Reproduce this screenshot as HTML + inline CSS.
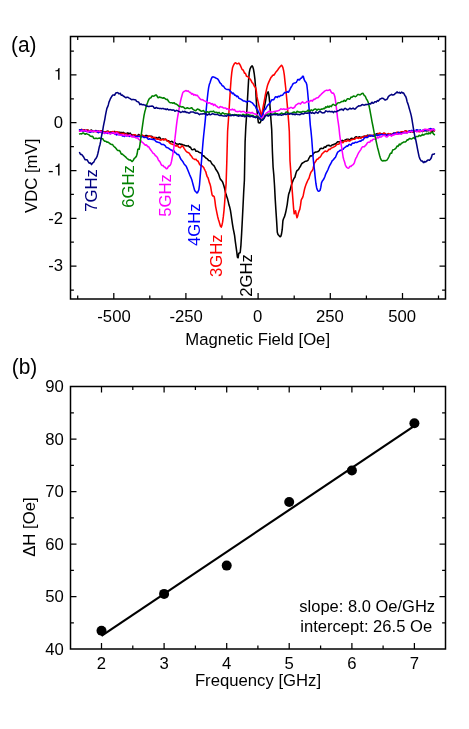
<!DOCTYPE html>
<html><head><meta charset="utf-8"><title>Figure</title>
<style>
html,body{margin:0;padding:0;background:#ffffff;}
body{width:469px;height:729px;position:relative;overflow:hidden;font-family:"Liberation Sans",sans-serif;}
</style></head><body>
<svg width="469" height="729" viewBox="0 0 469 729" style="position:absolute;left:0;top:0;will-change:transform">
<rect x="0" y="0" width="469" height="729" fill="#ffffff"/>
<g font-family="'Liberation Sans', sans-serif" font-size="16.7px" fill="#000">
<g fill="none" stroke-width="1.55" stroke-linejoin="round" stroke-linecap="round">
<path d="M79.6,129.8 L80.3,129.9 L81.0,129.8 L81.7,129.7 L82.4,130.0 L83.1,130.0 L83.8,129.7 L84.5,130.2 L85.2,130.5 L85.9,130.1 L86.6,130.2 L87.3,130.3 L88.0,130.0 L88.7,130.7 L89.4,131.7 L90.1,130.8 L90.8,130.3 L91.5,130.0 L92.2,130.7 L92.9,131.3 L93.6,131.7 L94.3,131.5 L95.0,131.1 L95.7,130.5 L96.4,130.9 L97.1,131.6 L97.8,130.8 L98.5,130.8 L99.2,131.5 L99.9,131.5 L100.6,131.3 L101.3,130.7 L102.0,131.5 L102.7,132.1 L103.4,131.7 L104.1,131.9 L104.8,132.4 L105.5,131.9 L106.2,131.6 L106.9,131.4 L107.6,131.1 L108.3,131.5 L109.0,132.8 L109.8,132.5 L110.5,132.0 L111.2,132.0 L111.9,132.2 L112.6,132.6 L113.3,133.0 L114.0,132.5 L114.7,131.4 L115.4,132.7 L116.1,132.9 L116.8,132.0 L117.5,132.5 L118.2,132.8 L118.9,132.2 L119.6,132.3 L120.3,132.6 L121.0,132.4 L121.7,132.6 L122.4,133.0 L123.1,132.4 L123.8,132.6 L124.5,133.7 L125.2,133.5 L125.9,133.4 L126.6,133.5 L127.3,133.1 L128.0,132.9 L128.7,134.1 L129.4,133.9 L130.1,133.1 L130.8,134.0 L131.5,134.7 L132.2,135.2 L132.9,135.0 L133.6,134.9 L134.3,134.8 L135.0,135.3 L135.7,135.8 L136.4,135.9 L137.1,135.7 L137.8,135.4 L138.5,134.5 L139.2,134.8 L139.9,136.2 L140.6,135.9 L141.3,135.7 L142.0,135.9 L142.7,135.9 L143.4,136.0 L144.1,136.6 L144.8,136.2 L145.5,135.5 L146.2,135.4 L146.9,135.6 L147.6,136.2 L148.3,136.2 L149.0,136.2 L149.7,136.3 L150.4,136.3 L151.1,136.3 L151.8,136.2 L152.5,137.2 L153.2,138.3 L153.9,138.2 L154.6,138.0 L155.3,137.8 L156.0,137.5 L156.7,137.7 L157.4,138.4 L158.1,137.8 L158.8,137.3 L159.5,137.2 L160.2,138.1 L160.9,139.1 L161.6,139.4 L162.3,139.2 L163.0,138.8 L163.7,139.3 L164.4,139.4 L165.1,139.1 L165.8,139.5 L166.5,140.1 L167.2,140.9 L167.9,140.8 L168.7,140.8 L169.4,141.7 L170.1,141.9 L170.8,141.8 L171.5,141.3 L172.2,141.5 L172.9,142.3 L173.6,142.5 L174.3,142.6 L175.0,142.6 L175.7,143.3 L176.4,143.9 L177.1,144.1 L177.8,144.3 L178.5,144.5 L179.2,143.8 L179.9,143.8 L180.6,144.5 L181.3,144.3 L182.0,144.3 L182.7,144.9 L183.4,145.0 L184.1,145.1 L184.8,145.6 L185.5,145.7 L186.2,145.8 L186.9,146.0 L187.6,145.9 L188.3,145.6 L189.0,146.6 L189.7,147.2 L190.4,147.1 L191.1,148.4 L191.8,149.6 L192.5,149.7 L193.2,149.5 L193.9,149.2 L194.6,149.1 L195.3,149.9 L196.0,151.3 L196.7,151.3 L197.4,151.3 L198.1,151.5 L198.8,152.1 L199.5,152.6 L200.2,152.7 L200.9,152.8 L201.6,153.4 L202.3,155.3 L203.0,155.9 L203.7,155.7 L204.4,156.6 L205.1,157.3 L205.8,158.0 L206.5,158.4 L207.2,158.8 L207.9,159.7 L208.6,160.3 L209.3,160.8 L210.0,160.7 L210.7,161.5 L211.4,162.8 L212.1,164.0 L212.8,164.8 L213.5,165.2 L214.2,166.1 L214.9,167.3 L215.6,169.0 L216.3,170.0 L217.0,171.0 L217.7,172.1 L218.4,173.6 L219.1,175.5 L219.8,177.7 L220.5,179.4 L221.2,180.1 L221.9,180.9 L222.6,182.0 L223.3,184.0 L224.0,186.3 L224.7,188.9 L225.4,192.2 L226.1,194.6 L226.8,196.7 L227.6,199.1 L228.3,201.9 L229.0,205.1 L229.7,207.1 L230.4,210.2 L231.1,214.7 L231.8,219.7 L232.5,224.4 L233.2,228.6 L233.9,232.0 L234.6,235.6 L235.3,241.3 L236.0,246.3 L236.7,251.4 L237.4,257.2 L238.1,257.8 L238.8,253.2 L239.5,253.0 L240.2,252.5 L240.9,245.6 L241.6,233.9 L242.3,220.5 L243.0,206.5 L243.7,192.0 L244.4,180.2 L245.1,141.9 L245.8,126.9 L246.5,116.7 L247.2,104.4 L247.9,92.1 L248.6,79.8 L249.3,72.3 L250.0,69.1 L250.7,67.5 L251.4,66.5 L252.1,65.8 L252.8,66.9 L253.5,69.3 L254.2,73.5 L254.9,79.1 L255.6,87.7 L256.3,100.5 L257.0,110.7 L257.7,117.7 L258.4,122.7 L259.1,122.8 L259.8,122.9 L260.5,122.0 L261.2,120.2 L261.9,117.1 L262.6,114.8 L263.3,112.0 L264.0,108.5 L264.7,105.4 L265.4,101.9 L266.1,97.4 L266.8,94.5 L267.5,92.3 L268.2,91.9 L268.9,94.9 L269.6,101.3 L270.3,110.3 L271.0,120.4 L271.7,129.6 L272.4,151.6 L273.1,167.2 L273.8,174.7 L274.5,185.3 L275.2,198.9 L275.9,210.1 L276.6,220.6 L277.3,232.3 L278.0,234.5 L278.7,235.3 L279.4,236.1 L280.1,236.8 L280.8,236.4 L281.5,234.0 L282.2,229.7 L282.9,220.8 L283.6,218.5 L284.3,217.2 L285.0,215.1 L285.7,212.3 L286.4,208.8 L287.2,204.6 L287.9,199.1 L288.6,194.6 L289.3,192.6 L290.0,190.2 L290.7,187.7 L291.4,185.0 L292.1,182.9 L292.8,181.1 L293.5,179.3 L294.2,178.1 L294.9,177.2 L295.6,174.5 L296.3,172.1 L297.0,170.6 L297.7,170.1 L298.4,169.6 L299.1,168.3 L299.8,167.2 L300.5,166.2 L301.2,164.6 L301.9,163.5 L302.6,163.0 L303.3,162.6 L304.0,162.2 L304.7,161.6 L305.4,161.3 L306.1,161.2 L306.8,161.1 L307.5,160.7 L308.2,160.0 L308.9,158.3 L309.6,157.2 L310.3,155.8 L311.0,155.9 L311.7,155.9 L312.4,155.3 L313.1,154.3 L313.8,153.2 L314.5,152.7 L315.2,152.2 L315.9,152.0 L316.6,151.9 L317.3,151.8 L318.0,151.6 L318.7,151.1 L319.4,150.2 L320.1,148.8 L320.8,148.5 L321.5,148.3 L322.2,148.4 L322.9,148.4 L323.6,148.2 L324.3,147.0 L325.0,146.9 L325.7,147.3 L326.4,146.2 L327.1,145.6 L327.8,145.4 L328.5,145.2 L329.2,145.3 L329.9,145.9 L330.6,145.9 L331.3,145.7 L332.0,144.9 L332.7,144.7 L333.4,144.8 L334.1,144.2 L334.8,143.9 L335.5,143.9 L336.2,143.2 L336.9,142.5 L337.6,141.8 L338.3,141.8 L339.0,141.9 L339.7,141.8 L340.4,141.9 L341.1,141.8 L341.8,140.5 L342.5,140.4 L343.2,141.4 L343.9,140.9 L344.6,140.4 L345.3,139.9 L346.1,139.6 L346.8,139.3 L347.5,139.2 L348.2,139.2 L348.9,139.4 L349.6,140.0 L350.3,139.6 L351.0,138.5 L351.7,138.3 L352.4,138.4 L353.1,139.1 L353.8,138.7 L354.5,138.0 L355.2,137.2 L355.9,136.8 L356.6,136.7 L357.3,137.7 L358.0,137.6 L358.7,137.0 L359.4,136.8 L360.1,137.1 L360.8,138.0 L361.5,137.3 L362.2,136.8 L362.9,137.0 L363.6,136.5 L364.3,136.1 L365.0,136.8 L365.7,136.9 L366.4,136.4 L367.1,135.5 L367.8,135.1 L368.5,135.5 L369.2,135.6 L369.9,135.7 L370.6,136.1 L371.3,135.8 L372.0,135.5 L372.7,135.6 L373.4,135.6 L374.1,135.7 L374.8,135.0 L375.5,134.5 L376.2,134.1 L376.9,133.7 L377.6,133.6 L378.3,133.9 L379.0,133.8 L379.7,133.7 L380.4,133.6 L381.1,133.7 L381.8,134.0 L382.5,133.7 L383.2,133.6 L383.9,133.6 L384.6,133.6 L385.3,134.0 L386.0,134.9 L386.7,134.5 L387.4,134.2 L388.1,134.7 L388.8,134.8 L389.5,134.6 L390.2,134.1 L390.9,134.2 L391.6,134.8 L392.3,134.3 L393.0,133.7 L393.7,133.1 L394.4,133.2 L395.1,133.3 L395.8,133.1 L396.5,133.5 L397.2,133.8 L397.9,132.7 L398.6,132.6 L399.3,133.1 L400.0,133.0 L400.7,132.8 L401.4,132.4 L402.1,132.5 L402.8,132.8 L403.5,133.1 L404.2,132.2 L405.0,131.1 L405.7,131.1 L406.4,131.3 L407.1,131.7 L407.8,132.0 L408.5,132.1 L409.2,131.9 L409.9,132.2 L410.6,132.1 L411.3,130.9 L412.0,131.4 L412.7,132.0 L413.4,132.0 L414.1,131.7 L414.8,131.2 L415.5,130.9 L416.2,130.8 L416.9,130.7 L417.6,130.6 L418.3,130.5 L419.0,130.5 L419.7,131.0 L420.4,131.3 L421.1,131.0 L421.8,131.3 L422.5,131.7 L423.2,130.5 L423.9,130.0 L424.6,130.0 L425.3,130.6 L426.0,130.9 L426.7,130.7 L427.4,130.8 L428.1,130.8 L428.8,130.4 L429.5,130.2 L430.2,130.2 L430.9,130.6 L431.6,131.1 L432.3,131.6 L433.0,130.8 L433.7,130.5 L434.4,130.9" stroke="#000000"/>
<path d="M79.6,131.1 L80.3,130.4 L81.0,129.8 L81.7,129.4 L82.4,129.7 L83.1,129.8 L83.8,129.8 L84.5,130.8 L85.2,131.3 L85.9,130.6 L86.6,130.2 L87.3,130.0 L88.0,130.4 L88.7,130.9 L89.4,131.5 L90.1,130.6 L90.8,130.7 L91.5,131.6 L92.2,131.2 L92.9,131.0 L93.6,131.4 L94.3,131.3 L95.0,131.3 L95.7,131.5 L96.4,131.7 L97.1,131.7 L97.8,131.5 L98.5,131.6 L99.2,131.8 L99.9,131.3 L100.6,130.9 L101.3,130.9 L102.0,131.3 L102.7,131.6 L103.4,131.8 L104.1,131.8 L104.8,131.8 L105.5,131.9 L106.2,132.2 L106.9,132.6 L107.6,131.7 L108.3,131.4 L109.0,131.9 L109.8,132.3 L110.5,132.5 L111.2,132.2 L111.9,131.9 L112.6,131.6 L113.3,131.6 L114.0,132.2 L114.7,133.1 L115.4,132.3 L116.1,131.8 L116.8,131.9 L117.5,132.0 L118.2,132.2 L118.9,132.9 L119.6,133.3 L120.3,133.5 L121.0,133.5 L121.7,133.6 L122.4,133.8 L123.1,133.4 L123.8,133.5 L124.5,134.3 L125.2,134.2 L125.9,134.2 L126.6,134.1 L127.3,134.5 L128.0,134.9 L128.7,135.4 L129.4,135.1 L130.1,134.6 L130.8,135.3 L131.5,135.6 L132.2,135.5 L132.9,135.1 L133.6,134.9 L134.3,134.7 L135.0,134.7 L135.7,134.9 L136.4,136.1 L137.1,136.5 L137.8,136.4 L138.5,135.6 L139.2,135.5 L139.9,136.0 L140.6,135.6 L141.3,135.2 L142.0,134.8 L142.7,135.4 L143.4,136.0 L144.1,136.0 L144.8,136.5 L145.5,137.1 L146.2,136.7 L146.9,136.9 L147.6,137.5 L148.3,136.4 L149.0,135.9 L149.7,136.2 L150.4,136.3 L151.1,136.7 L151.8,137.7 L152.5,137.6 L153.2,137.3 L153.9,137.3 L154.6,137.5 L155.3,138.0 L156.0,138.9 L156.7,139.0 L157.4,139.2 L158.1,139.0 L158.8,139.1 L159.5,139.7 L160.2,140.1 L160.9,140.2 L161.6,139.5 L162.3,139.4 L163.0,139.5 L163.7,140.0 L164.4,139.8 L165.1,139.0 L165.8,139.3 L166.5,140.0 L167.2,140.8 L167.9,141.1 L168.7,141.5 L169.4,142.6 L170.1,143.3 L170.8,143.7 L171.5,143.9 L172.2,144.1 L172.9,144.5 L173.6,144.6 L174.3,144.8 L175.0,145.3 L175.7,145.9 L176.4,146.1 L177.1,145.3 L177.8,145.9 L178.5,147.0 L179.2,147.4 L179.9,147.6 L180.6,147.6 L181.3,146.6 L182.0,145.9 L182.7,146.1 L183.4,147.1 L184.1,148.3 L184.8,149.4 L185.5,150.4 L186.2,151.3 L186.9,152.0 L187.6,152.4 L188.3,152.6 L189.0,153.0 L189.7,153.8 L190.4,155.1 L191.1,155.8 L191.8,156.7 L192.5,158.0 L193.2,158.6 L193.9,158.9 L194.6,159.5 L195.3,159.5 L196.0,159.2 L196.7,160.2 L197.4,160.9 L198.1,161.1 L198.8,162.7 L199.5,164.2 L200.2,165.1 L200.9,165.5 L201.6,165.7 L202.3,166.2 L203.0,166.8 L203.7,167.5 L204.4,169.1 L205.1,170.5 L205.8,171.8 L206.5,174.6 L207.2,176.8 L207.9,177.5 L208.6,179.8 L209.3,182.4 L210.0,184.1 L210.7,186.8 L211.4,191.1 L212.1,194.9 L212.8,196.0 L213.5,195.9 L214.2,196.7 L214.9,200.6 L215.6,206.3 L216.3,209.9 L217.0,213.3 L217.7,216.7 L218.4,219.4 L219.1,221.6 L219.8,224.0 L220.5,226.3 L221.2,227.1 L221.9,225.4 L222.6,222.2 L223.3,216.9 L224.0,210.5 L224.7,202.0 L225.4,192.1 L226.1,183.7 L226.8,161.9 L227.6,131.2 L228.3,121.7 L229.0,111.0 L229.7,99.7 L230.4,88.7 L231.1,79.2 L231.8,72.3 L232.5,67.8 L233.2,65.9 L233.9,64.5 L234.6,63.3 L235.3,62.8 L236.0,63.0 L236.7,63.7 L237.4,63.7 L238.1,63.5 L238.8,63.1 L239.5,63.9 L240.2,65.2 L240.9,66.7 L241.6,68.3 L242.3,69.7 L243.0,69.8 L243.7,71.1 L244.4,73.1 L245.1,73.1 L245.8,74.2 L246.5,76.3 L247.2,76.4 L247.9,76.5 L248.6,77.4 L249.3,78.2 L250.0,79.0 L250.7,79.8 L251.4,81.1 L252.1,82.7 L252.8,83.1 L253.5,84.3 L254.2,86.0 L254.9,86.8 L255.6,87.8 L256.3,90.8 L257.0,96.9 L257.7,100.1 L258.4,103.1 L259.1,106.3 L259.8,109.3 L260.5,112.2 L261.2,115.3 L261.9,114.7 L262.6,109.9 L263.3,106.1 L264.0,102.3 L264.7,98.6 L265.4,94.6 L266.1,91.4 L266.8,88.4 L267.5,85.5 L268.2,83.6 L268.9,81.9 L269.6,80.4 L270.3,78.9 L271.0,77.4 L271.7,76.7 L272.4,75.7 L273.1,75.1 L273.8,75.2 L274.5,74.3 L275.2,73.1 L275.9,72.1 L276.6,71.3 L277.3,70.4 L278.0,69.5 L278.7,68.3 L279.4,67.6 L280.1,66.8 L280.8,66.0 L281.5,65.2 L282.2,66.0 L282.9,67.6 L283.6,70.5 L284.3,74.9 L285.0,81.7 L285.7,88.0 L286.4,95.3 L287.2,104.2 L287.9,112.7 L288.6,121.1 L289.3,131.2 L290.0,160.8 L290.7,170.6 L291.4,180.0 L292.1,189.1 L292.8,198.1 L293.5,207.3 L294.2,213.8 L294.9,212.4 L295.6,210.8 L296.3,214.9 L297.0,217.7 L297.7,215.9 L298.4,212.9 L299.1,210.9 L299.8,209.4 L300.5,205.4 L301.2,200.1 L301.9,198.7 L302.6,197.5 L303.3,195.2 L304.0,191.7 L304.7,188.5 L305.4,186.2 L306.1,184.3 L306.8,182.6 L307.5,181.0 L308.2,179.5 L308.9,178.5 L309.6,176.1 L310.3,173.9 L311.0,172.1 L311.7,171.1 L312.4,170.6 L313.1,168.5 L313.8,165.4 L314.5,162.9 L315.2,162.0 L315.9,161.1 L316.6,159.7 L317.3,159.1 L318.0,159.1 L318.7,158.1 L319.4,157.4 L320.1,157.2 L320.8,156.1 L321.5,154.8 L322.2,153.6 L322.9,153.0 L323.6,152.6 L324.3,151.7 L325.0,151.2 L325.7,151.1 L326.4,151.6 L327.1,151.5 L327.8,150.7 L328.5,149.7 L329.2,149.2 L329.9,149.5 L330.6,148.8 L331.3,147.9 L332.0,147.8 L332.7,147.6 L333.4,147.2 L334.1,146.8 L334.8,146.4 L335.5,146.0 L336.2,145.1 L336.9,144.5 L337.6,144.2 L338.3,144.3 L339.0,144.1 L339.7,142.5 L340.4,141.8 L341.1,141.7 L341.8,142.4 L342.5,142.6 L343.2,142.6 L343.9,141.5 L344.6,140.9 L345.3,141.1 L346.1,141.4 L346.8,141.3 L347.5,140.0 L348.2,140.2 L348.9,141.0 L349.6,141.1 L350.3,140.7 L351.0,139.8 L351.7,139.8 L352.4,139.6 L353.1,139.2 L353.8,139.3 L354.5,139.2 L355.2,138.9 L355.9,138.1 L356.6,137.5 L357.3,137.7 L358.0,138.0 L358.7,138.4 L359.4,137.8 L360.1,137.6 L360.8,137.9 L361.5,137.7 L362.2,137.3 L362.9,136.6 L363.6,137.3 L364.3,137.8 L365.0,136.3 L365.7,135.8 L366.4,135.9 L367.1,136.0 L367.8,136.3 L368.5,136.6 L369.2,135.5 L369.9,135.0 L370.6,135.5 L371.3,135.5 L372.0,135.4 L372.7,135.4 L373.4,135.1 L374.1,134.7 L374.8,134.8 L375.5,135.1 L376.2,135.5 L376.9,135.0 L377.6,134.5 L378.3,133.7 L379.0,133.3 L379.7,133.1 L380.4,133.4 L381.1,133.7 L381.8,133.9 L382.5,134.1 L383.2,133.8 L383.9,133.1 L384.6,133.2 L385.3,133.8 L386.0,135.1 L386.7,135.2 L387.4,134.8 L388.1,133.6 L388.8,133.8 L389.5,134.4 L390.2,134.0 L390.9,134.2 L391.6,134.8 L392.3,134.3 L393.0,133.7 L393.7,133.3 L394.4,133.5 L395.1,133.6 L395.8,133.4 L396.5,132.7 L397.2,132.1 L397.9,133.0 L398.6,132.9 L399.3,132.4 L400.0,132.3 L400.7,132.1 L401.4,131.8 L402.1,131.7 L402.8,131.8 L403.5,132.5 L404.2,131.9 L405.0,131.1 L405.7,131.1 L406.4,131.2 L407.1,131.3 L407.8,131.7 L408.5,131.6 L409.2,131.0 L409.9,130.9 L410.6,130.9 L411.3,131.2 L412.0,131.7 L412.7,131.9 L413.4,131.2 L414.1,130.9 L414.8,130.9 L415.5,130.7 L416.2,130.6 L416.9,130.8 L417.6,131.1 L418.3,131.4 L419.0,131.7 L419.7,131.7 L420.4,131.5 L421.1,131.0 L421.8,130.7 L422.5,130.7 L423.2,131.3 L423.9,131.0 L424.6,130.2 L425.3,130.0 L426.0,129.9 L426.7,130.1 L427.4,129.7 L428.1,129.4 L428.8,129.5 L429.5,129.9 L430.2,130.6 L430.9,131.1 L431.6,130.7 L432.3,129.5 L433.0,129.4 L433.7,129.7 L434.4,130.7" stroke="#ff0000"/>
<path d="M79.6,129.9 L80.3,130.4 L81.0,130.2 L81.7,129.5 L82.4,130.8 L83.1,131.3 L83.8,131.1 L84.5,130.6 L85.2,130.5 L85.9,131.2 L86.6,131.4 L87.3,131.5 L88.0,131.3 L88.7,131.6 L89.4,132.1 L90.1,132.2 L90.8,132.0 L91.5,131.4 L92.2,131.6 L92.9,131.6 L93.6,131.2 L94.3,131.2 L95.0,131.3 L95.7,131.2 L96.4,131.1 L97.1,131.1 L97.8,132.4 L98.5,132.7 L99.2,132.1 L99.9,131.9 L100.6,132.0 L101.3,132.6 L102.0,132.9 L102.7,132.9 L103.4,132.1 L104.1,132.6 L104.8,133.4 L105.5,132.8 L106.2,132.7 L106.9,132.9 L107.6,133.4 L108.3,133.3 L109.0,132.7 L109.8,133.4 L110.5,133.7 L111.2,132.9 L111.9,132.8 L112.6,133.0 L113.3,132.7 L114.0,133.1 L114.7,134.0 L115.4,134.2 L116.1,134.6 L116.8,135.0 L117.5,134.1 L118.2,133.7 L118.9,134.7 L119.6,134.8 L120.3,134.5 L121.0,134.6 L121.7,135.2 L122.4,136.0 L123.1,135.7 L123.8,135.8 L124.5,136.4 L125.2,135.5 L125.9,135.1 L126.6,136.0 L127.3,135.7 L128.0,135.3 L128.7,136.3 L129.4,136.4 L130.1,135.9 L130.8,135.7 L131.5,135.9 L132.2,136.5 L132.9,136.6 L133.6,136.6 L134.3,136.5 L135.0,136.5 L135.7,136.4 L136.4,136.5 L137.1,136.5 L137.8,136.4 L138.5,136.2 L139.2,136.3 L139.9,136.6 L140.6,137.0 L141.3,136.9 L142.0,136.2 L142.7,136.6 L143.4,137.1 L144.1,137.5 L144.8,137.5 L145.5,137.2 L146.2,137.2 L146.9,137.7 L147.6,138.6 L148.3,139.2 L149.0,139.2 L149.7,138.7 L150.4,139.1 L151.1,139.4 L151.8,139.1 L152.5,139.4 L153.2,139.7 L153.9,139.4 L154.6,139.8 L155.3,140.8 L156.0,141.5 L156.7,141.9 L157.4,142.0 L158.1,142.3 L158.8,142.5 L159.5,142.5 L160.2,143.1 L160.9,143.8 L161.6,144.4 L162.3,144.5 L163.0,144.4 L163.7,144.6 L164.4,145.1 L165.1,145.6 L165.8,146.7 L166.5,147.5 L167.2,147.6 L167.9,147.9 L168.7,148.3 L169.4,148.8 L170.1,149.4 L170.8,150.0 L171.5,150.0 L172.2,150.5 L172.9,151.4 L173.6,150.9 L174.3,151.1 L175.0,152.6 L175.7,152.9 L176.4,153.3 L177.1,154.4 L177.8,154.6 L178.5,154.5 L179.2,155.6 L179.9,157.1 L180.6,158.8 L181.3,159.8 L182.0,160.6 L182.7,161.4 L183.4,162.7 L184.1,164.0 L184.8,164.7 L185.5,165.5 L186.2,166.3 L186.9,167.9 L187.6,169.5 L188.3,171.2 L189.0,173.0 L189.7,174.8 L190.4,176.4 L191.1,177.9 L191.8,179.8 L192.5,182.4 L193.2,185.0 L193.9,187.6 L194.6,190.2 L195.3,191.4 L196.0,191.8 L196.7,192.9 L197.4,192.8 L198.1,191.3 L198.8,190.0 L199.5,185.0 L200.2,176.1 L200.9,168.1 L201.6,159.8 L202.3,150.8 L203.0,142.4 L203.7,135.0 L204.4,128.6 L205.1,121.9 L205.8,114.1 L206.5,106.7 L207.2,99.5 L207.9,93.0 L208.6,87.9 L209.3,84.6 L210.0,82.7 L210.7,80.5 L211.4,78.6 L212.1,77.2 L212.8,76.8 L213.5,77.1 L214.2,77.2 L214.9,77.4 L215.6,78.0 L216.3,78.2 L217.0,78.6 L217.7,79.0 L218.4,79.9 L219.1,81.2 L219.8,82.6 L220.5,83.4 L221.2,83.9 L221.9,85.2 L222.6,86.0 L223.3,86.0 L224.0,86.9 L224.7,87.9 L225.4,88.7 L226.1,89.1 L226.8,89.4 L227.6,89.4 L228.3,89.5 L229.0,89.5 L229.7,90.6 L230.4,91.4 L231.1,91.8 L231.8,92.9 L232.5,93.6 L233.2,93.0 L233.9,93.9 L234.6,95.1 L235.3,95.1 L236.0,95.7 L236.7,96.6 L237.4,96.1 L238.1,96.6 L238.8,98.2 L239.5,98.6 L240.2,98.8 L240.9,99.2 L241.6,99.6 L242.3,100.1 L243.0,100.7 L243.7,101.0 L244.4,101.1 L245.1,101.3 L245.8,101.6 L246.5,102.0 L247.2,101.6 L247.9,101.2 L248.6,101.2 L249.3,101.3 L250.0,101.4 L250.7,101.8 L251.4,102.3 L252.1,102.7 L252.8,103.4 L253.5,104.2 L254.2,105.3 L254.9,105.6 L255.6,106.8 L256.3,108.8 L257.0,109.2 L257.7,109.9 L258.4,111.9 L259.1,113.2 L259.8,114.5 L260.5,116.8 L261.2,118.1 L261.9,117.1 L262.6,115.0 L263.3,112.7 L264.0,110.2 L264.7,109.8 L265.4,109.4 L266.1,107.9 L266.8,106.6 L267.5,105.6 L268.2,104.7 L268.9,104.1 L269.6,103.7 L270.3,102.4 L271.0,101.2 L271.7,99.8 L272.4,99.8 L273.1,99.9 L273.8,99.5 L274.5,98.4 L275.2,97.2 L275.9,96.7 L276.6,96.9 L277.3,97.5 L278.0,96.5 L278.7,96.2 L279.4,96.6 L280.1,96.0 L280.8,95.4 L281.5,95.5 L282.2,95.3 L282.9,94.8 L283.6,93.7 L284.3,92.9 L285.0,92.4 L285.7,92.7 L286.4,92.4 L287.2,91.5 L287.9,92.1 L288.6,92.1 L289.3,90.7 L290.0,89.3 L290.7,87.8 L291.4,86.8 L292.1,85.5 L292.8,84.1 L293.5,83.4 L294.2,83.1 L294.9,82.9 L295.6,82.7 L296.3,82.3 L297.0,81.0 L297.7,79.6 L298.4,79.5 L299.1,80.0 L299.8,79.5 L300.5,78.3 L301.2,78.3 L301.9,77.6 L302.6,76.2 L303.3,76.2 L304.0,79.1 L304.7,80.8 L305.4,81.7 L306.1,82.5 L306.8,84.7 L307.5,90.5 L308.2,98.3 L308.9,106.4 L309.6,115.6 L310.3,125.1 L311.0,131.2 L311.7,138.5 L312.4,148.0 L313.1,157.5 L313.8,164.8 L314.5,170.3 L315.2,177.3 L315.9,183.5 L316.6,187.4 L317.3,189.7 L318.0,191.0 L318.7,191.2 L319.4,191.0 L320.1,190.3 L320.8,187.4 L321.5,182.9 L322.2,181.2 L322.9,180.3 L323.6,179.3 L324.3,177.9 L325.0,176.2 L325.7,174.1 L326.4,172.7 L327.1,171.3 L327.8,170.0 L328.5,168.2 L329.2,166.5 L329.9,165.2 L330.6,164.0 L331.3,162.7 L332.0,161.1 L332.7,160.2 L333.4,159.8 L334.1,158.8 L334.8,157.9 L335.5,157.2 L336.2,155.5 L336.9,153.9 L337.6,152.3 L338.3,151.7 L339.0,151.3 L339.7,150.5 L340.4,150.3 L341.1,150.4 L341.8,149.7 L342.5,149.3 L343.2,149.3 L343.9,148.2 L344.6,147.5 L345.3,147.3 L346.1,146.5 L346.8,146.0 L347.5,146.3 L348.2,145.6 L348.9,144.5 L349.6,144.4 L350.3,144.7 L351.0,145.2 L351.7,144.0 L352.4,143.2 L353.1,143.0 L353.8,143.2 L354.5,143.1 L355.2,142.2 L355.9,142.2 L356.6,142.4 L357.3,142.2 L358.0,141.9 L358.7,141.6 L359.4,141.3 L360.1,141.1 L360.8,141.1 L361.5,140.4 L362.2,140.0 L362.9,140.1 L363.6,139.1 L364.3,138.0 L365.0,137.4 L365.7,137.3 L366.4,137.5 L367.1,137.6 L367.8,137.2 L368.5,136.1 L369.2,135.9 L369.9,135.7 L370.6,135.5 L371.3,135.5 L372.0,135.6 L372.7,136.2 L373.4,136.2 L374.1,135.9 L374.8,135.9 L375.5,135.4 L376.2,134.5 L376.9,135.2 L377.6,135.6 L378.3,135.3 L379.0,135.1 L379.7,135.0 L380.4,134.7 L381.1,134.5 L381.8,134.3 L382.5,134.9 L383.2,135.0 L383.9,134.8 L384.6,135.0 L385.3,135.1 L386.0,134.9 L386.7,135.3 L387.4,135.5 L388.1,135.0 L388.8,134.8 L389.5,134.7 L390.2,135.1 L390.9,135.3 L391.6,135.4 L392.3,134.4 L393.0,133.9 L393.7,133.9 L394.4,133.4 L395.1,133.0 L395.8,133.5 L396.5,133.9 L397.2,134.1 L397.9,132.7 L398.6,132.4 L399.3,132.8 L400.0,133.1 L400.7,133.3 L401.4,133.6 L402.1,133.2 L402.8,132.8 L403.5,132.5 L404.2,132.6 L405.0,132.8 L405.7,132.7 L406.4,132.7 L407.1,132.8 L407.8,132.4 L408.5,131.7 L409.2,130.7 L409.9,131.1 L410.6,131.2 L411.3,130.4 L412.0,130.6 L412.7,130.9 L413.4,130.3 L414.1,130.6 L414.8,131.3 L415.5,130.6 L416.2,130.0 L416.9,129.7 L417.6,130.3 L418.3,130.6 L419.0,130.7 L419.7,130.2 L420.4,129.9 L421.1,130.8 L421.8,131.1 L422.5,130.9 L423.2,129.8 L423.9,129.8 L424.6,130.8 L425.3,130.1 L426.0,129.8 L426.7,130.2 L427.4,130.1 L428.1,129.8 L428.8,129.4 L429.5,128.9 L430.2,128.6 L430.9,128.7 L431.6,129.2 L432.3,129.9 L433.0,129.3 L433.7,129.1 L434.4,129.6" stroke="#0000ff"/>
<path d="M79.6,131.0 L80.3,131.2 L81.0,131.1 L81.7,130.9 L82.4,130.5 L83.1,130.5 L83.8,130.9 L84.5,130.9 L85.2,130.8 L85.9,130.2 L86.6,130.9 L87.3,131.7 L88.0,131.8 L88.7,131.5 L89.4,131.0 L90.1,131.1 L90.8,131.1 L91.5,131.0 L92.2,131.2 L92.9,131.2 L93.6,131.1 L94.3,131.1 L95.0,131.2 L95.7,131.7 L96.4,131.6 L97.1,131.2 L97.8,131.0 L98.5,131.1 L99.2,131.5 L99.9,131.6 L100.6,131.7 L101.3,131.6 L102.0,132.3 L102.7,132.9 L103.4,132.6 L104.1,132.8 L104.8,133.2 L105.5,133.3 L106.2,132.9 L106.9,132.3 L107.6,132.5 L108.3,132.9 L109.0,133.6 L109.8,133.8 L110.5,133.8 L111.2,133.6 L111.9,133.2 L112.6,132.8 L113.3,132.5 L114.0,133.0 L114.7,134.0 L115.4,133.5 L116.1,133.1 L116.8,132.8 L117.5,133.4 L118.2,134.2 L118.9,134.8 L119.6,135.0 L120.3,135.1 L121.0,135.1 L121.7,135.1 L122.4,135.0 L123.1,135.0 L123.8,135.2 L124.5,135.5 L125.2,135.1 L125.9,135.0 L126.6,135.5 L127.3,136.0 L128.0,136.2 L128.7,135.7 L129.4,135.2 L130.1,134.9 L130.8,136.1 L131.5,136.8 L132.2,136.9 L132.9,136.4 L133.6,136.3 L134.3,137.0 L135.0,137.4 L135.7,137.7 L136.4,137.9 L137.1,137.9 L137.8,138.0 L138.5,139.2 L139.2,139.7 L139.9,139.9 L140.6,140.4 L141.3,141.2 L142.0,142.2 L142.7,142.7 L143.4,143.2 L144.1,143.9 L144.8,144.7 L145.5,145.3 L146.2,144.8 L146.9,145.3 L147.6,146.6 L148.3,146.6 L149.0,147.2 L149.7,148.6 L150.4,149.5 L151.1,150.4 L151.8,151.4 L152.5,152.4 L153.2,153.3 L153.9,153.6 L154.6,154.4 L155.3,155.6 L156.0,156.0 L156.7,156.6 L157.4,157.6 L158.1,159.3 L158.8,160.7 L159.5,161.0 L160.2,162.3 L160.9,163.9 L161.6,165.1 L162.3,165.5 L163.0,165.4 L163.7,166.5 L164.4,167.1 L165.1,167.3 L165.8,168.2 L166.5,168.8 L167.2,168.6 L167.9,167.3 L168.7,166.0 L169.4,166.1 L170.1,165.3 L170.8,164.0 L171.5,161.4 L172.2,157.6 L172.9,154.0 L173.6,150.0 L174.3,143.2 L175.0,138.2 L175.7,132.2 L176.4,125.8 L177.1,120.3 L177.8,116.0 L178.5,112.3 L179.2,108.2 L179.9,104.3 L180.6,100.8 L181.3,98.0 L182.0,95.5 L182.7,92.9 L183.4,91.9 L184.1,91.5 L184.8,91.1 L185.5,90.8 L186.2,90.6 L186.9,91.1 L187.6,91.1 L188.3,90.9 L189.0,91.8 L189.7,92.5 L190.4,92.4 L191.1,93.4 L191.8,94.1 L192.5,93.5 L193.2,94.2 L193.9,95.2 L194.6,94.6 L195.3,94.7 L196.0,95.5 L196.7,95.2 L197.4,95.3 L198.1,96.4 L198.8,97.2 L199.5,98.3 L200.2,99.0 L200.9,99.5 L201.6,99.8 L202.3,99.6 L203.0,99.9 L203.7,100.6 L204.4,100.8 L205.1,101.2 L205.8,101.7 L206.5,101.7 L207.2,102.0 L207.9,103.3 L208.6,103.1 L209.3,102.7 L210.0,103.0 L210.7,103.6 L211.4,104.2 L212.1,103.6 L212.8,104.0 L213.5,105.5 L214.2,104.6 L214.9,104.4 L215.6,105.5 L216.3,106.0 L217.0,106.4 L217.7,107.1 L218.4,107.6 L219.1,107.9 L219.8,106.8 L220.5,106.6 L221.2,107.1 L221.9,107.0 L222.6,107.2 L223.3,108.0 L224.0,108.0 L224.7,107.9 L225.4,107.9 L226.1,108.4 L226.8,109.1 L227.6,108.8 L228.3,109.0 L229.0,109.6 L229.7,109.6 L230.4,109.8 L231.1,110.0 L231.8,109.4 L232.5,109.1 L233.2,109.9 L233.9,109.7 L234.6,109.6 L235.3,110.9 L236.0,111.4 L236.7,111.4 L237.4,111.6 L238.1,111.6 L238.8,111.5 L239.5,111.3 L240.2,111.3 L240.9,112.0 L241.6,111.8 L242.3,111.5 L243.0,111.5 L243.7,111.6 L244.4,111.8 L245.1,112.5 L245.8,112.9 L246.5,112.8 L247.2,112.4 L247.9,112.2 L248.6,112.6 L249.3,112.6 L250.0,112.6 L250.7,113.1 L251.4,112.9 L252.1,112.4 L252.8,113.0 L253.5,113.4 L254.2,113.7 L254.9,114.1 L255.6,114.2 L256.3,114.0 L257.0,114.8 L257.7,115.7 L258.4,116.6 L259.1,117.1 L259.8,117.6 L260.5,119.1 L261.2,119.2 L261.9,118.0 L262.6,117.2 L263.3,116.3 L264.0,115.6 L264.7,114.9 L265.4,114.2 L266.1,113.4 L266.8,112.8 L267.5,112.3 L268.2,112.0 L268.9,111.4 L269.6,110.7 L270.3,111.8 L271.0,112.3 L271.7,112.0 L272.4,112.0 L273.1,111.9 L273.8,111.6 L274.5,111.4 L275.2,111.3 L275.9,111.2 L276.6,111.1 L277.3,111.0 L278.0,110.8 L278.7,110.6 L279.4,110.3 L280.1,109.5 L280.8,108.9 L281.5,109.0 L282.2,109.2 L282.9,109.3 L283.6,108.9 L284.3,109.1 L285.0,109.5 L285.7,109.2 L286.4,109.2 L287.2,109.4 L287.9,108.7 L288.6,108.2 L289.3,108.3 L290.0,107.9 L290.7,107.4 L291.4,107.4 L292.1,107.8 L292.8,108.3 L293.5,108.0 L294.2,107.5 L294.9,106.9 L295.6,105.4 L296.3,104.8 L297.0,104.4 L297.7,103.9 L298.4,103.5 L299.1,103.3 L299.8,103.7 L300.5,104.1 L301.2,103.0 L301.9,102.3 L302.6,101.9 L303.3,102.6 L304.0,103.0 L304.7,102.9 L305.4,102.7 L306.1,102.3 L306.8,101.5 L307.5,101.6 L308.2,101.9 L308.9,102.0 L309.6,101.6 L310.3,100.8 L311.0,100.5 L311.7,100.6 L312.4,101.1 L313.1,100.0 L313.8,99.2 L314.5,99.4 L315.2,99.0 L315.9,98.4 L316.6,97.9 L317.3,97.7 L318.0,97.7 L318.7,96.9 L319.4,96.1 L320.1,95.4 L320.8,94.7 L321.5,93.9 L322.2,93.3 L322.9,92.7 L323.6,92.1 L324.3,91.4 L325.0,90.9 L325.7,90.6 L326.4,90.3 L327.1,90.3 L327.8,90.4 L328.5,90.3 L329.2,90.1 L329.9,89.6 L330.6,90.8 L331.3,92.3 L332.0,93.1 L332.7,93.1 L333.4,93.1 L334.1,94.3 L334.8,96.5 L335.5,100.6 L336.2,106.0 L336.9,112.2 L337.6,118.3 L338.3,122.9 L339.0,128.0 L339.7,134.8 L340.4,140.0 L341.1,144.2 L341.8,148.2 L342.5,153.0 L343.2,157.6 L343.9,159.9 L344.6,162.0 L345.3,164.8 L346.1,166.5 L346.8,167.4 L347.5,167.9 L348.2,168.2 L348.9,168.0 L349.6,166.6 L350.3,166.2 L351.0,166.4 L351.7,165.6 L352.4,165.1 L353.1,164.7 L353.8,163.8 L354.5,162.3 L355.2,159.9 L355.9,158.2 L356.6,157.1 L357.3,155.5 L358.0,154.0 L358.7,152.7 L359.4,151.6 L360.1,150.6 L360.8,149.6 L361.5,148.2 L362.2,147.1 L362.9,146.7 L363.6,146.7 L364.3,146.7 L365.0,145.9 L365.7,145.2 L366.4,144.6 L367.1,143.2 L367.8,142.4 L368.5,142.1 L369.2,142.4 L369.9,142.1 L370.6,140.5 L371.3,140.6 L372.0,140.8 L372.7,139.7 L373.4,139.2 L374.1,139.2 L374.8,139.2 L375.5,139.2 L376.2,139.1 L376.9,137.7 L377.6,137.1 L378.3,137.9 L379.0,137.3 L379.7,136.7 L380.4,137.1 L381.1,137.0 L381.8,136.6 L382.5,135.7 L383.2,135.4 L383.9,135.6 L384.6,135.5 L385.3,135.9 L386.0,136.8 L386.7,136.9 L387.4,136.7 L388.1,135.9 L388.8,135.4 L389.5,135.0 L390.2,135.3 L390.9,135.7 L391.6,136.2 L392.3,135.1 L393.0,134.7 L393.7,135.2 L394.4,134.6 L395.1,134.1 L395.8,134.4 L396.5,134.0 L397.2,133.7 L397.9,134.2 L398.6,134.3 L399.3,134.1 L400.0,134.0 L400.7,134.0 L401.4,134.2 L402.1,133.6 L402.8,133.2 L403.5,133.2 L404.2,132.5 L405.0,131.9 L405.7,132.8 L406.4,133.0 L407.1,132.9 L407.8,132.2 L408.5,132.0 L409.2,132.3 L409.9,131.6 L410.6,131.2 L411.3,131.4 L412.0,131.5 L412.7,131.4 L413.4,131.1 L414.1,130.9 L414.8,130.7 L415.5,130.9 L416.2,131.3 L416.9,132.0 L417.6,131.3 L418.3,130.8 L419.0,130.7 L419.7,131.1 L420.4,131.3 L421.1,130.7 L421.8,130.8 L422.5,131.0 L423.2,130.2 L423.9,129.6 L424.6,129.2 L425.3,129.2 L426.0,129.3 L426.7,129.6 L427.4,129.9 L428.1,130.0 L428.8,129.3 L429.5,129.9 L430.2,130.8 L430.9,129.9 L431.6,129.6 L432.3,129.8 L433.0,129.1 L433.7,129.2 L434.4,130.1" stroke="#ff00ff"/>
<path d="M79.6,133.9 L80.3,133.7 L81.0,133.7 L81.7,133.9 L82.4,133.2 L83.1,132.9 L83.8,133.2 L84.5,133.9 L85.2,134.3 L85.9,133.7 L86.6,133.8 L87.3,134.1 L88.0,134.4 L88.7,134.7 L89.4,135.1 L90.1,135.9 L90.8,136.3 L91.5,136.5 L92.2,136.2 L92.9,136.7 L93.6,138.1 L94.3,138.5 L95.0,138.5 L95.7,138.2 L96.4,138.3 L97.1,138.6 L97.8,138.4 L98.5,138.3 L99.2,138.1 L99.9,138.3 L100.6,138.5 L101.3,138.8 L102.0,138.6 L102.7,138.7 L103.4,139.9 L104.1,140.7 L104.8,141.3 L105.5,141.2 L106.2,141.5 L106.9,142.1 L107.6,142.1 L108.3,142.3 L109.0,142.8 L109.8,143.5 L110.5,144.0 L111.2,144.4 L111.9,144.4 L112.6,144.6 L113.3,145.7 L114.0,146.5 L114.7,147.1 L115.4,147.7 L116.1,148.5 L116.8,149.5 L117.5,150.3 L118.2,150.7 L118.9,150.3 L119.6,150.7 L120.3,151.7 L121.0,153.6 L121.7,154.2 L122.4,154.1 L123.1,154.8 L123.8,155.4 L124.5,156.0 L125.2,156.6 L125.9,157.2 L126.6,158.0 L127.3,158.6 L128.0,159.1 L128.7,159.8 L129.4,159.9 L130.1,159.8 L130.8,160.4 L131.5,161.0 L132.2,161.5 L132.9,160.7 L133.6,159.7 L134.3,158.3 L135.0,157.8 L135.7,157.2 L136.4,156.2 L137.1,154.1 L137.8,149.5 L138.5,149.0 L139.2,149.2 L139.9,144.8 L140.6,139.5 L141.3,134.4 L142.0,129.4 L142.7,124.3 L143.4,119.5 L144.1,115.1 L144.8,111.8 L145.5,109.4 L146.2,106.5 L146.9,104.2 L147.6,102.5 L148.3,100.6 L149.0,99.2 L149.7,98.2 L150.4,98.1 L151.1,97.7 L151.8,96.2 L152.5,95.9 L153.2,96.2 L153.9,96.1 L154.6,95.8 L155.3,95.2 L156.0,94.9 L156.7,95.3 L157.4,96.8 L158.1,97.7 L158.8,97.5 L159.5,97.0 L160.2,97.2 L160.9,97.6 L161.6,97.6 L162.3,97.9 L163.0,98.3 L163.7,97.7 L164.4,97.9 L165.1,98.7 L165.8,99.2 L166.5,99.5 L167.2,99.3 L167.9,100.3 L168.7,101.5 L169.4,102.3 L170.1,102.7 L170.8,102.8 L171.5,102.7 L172.2,102.8 L172.9,103.3 L173.6,102.8 L174.3,102.8 L175.0,103.8 L175.7,104.0 L176.4,104.1 L177.1,104.6 L177.8,105.2 L178.5,105.8 L179.2,106.4 L179.9,106.6 L180.6,106.4 L181.3,106.9 L182.0,107.0 L182.7,106.7 L183.4,107.1 L184.1,107.7 L184.8,108.5 L185.5,108.6 L186.2,108.3 L186.9,107.8 L187.6,107.8 L188.3,108.3 L189.0,108.4 L189.7,108.4 L190.4,108.2 L191.1,107.8 L191.8,107.8 L192.5,108.8 L193.2,109.4 L193.9,109.9 L194.6,110.3 L195.3,110.6 L196.0,110.6 L196.7,109.6 L197.4,109.1 L198.1,109.3 L198.8,109.5 L199.5,110.0 L200.2,110.5 L200.9,111.0 L201.6,111.2 L202.3,110.9 L203.0,110.7 L203.7,110.6 L204.4,111.8 L205.1,112.4 L205.8,112.4 L206.5,111.9 L207.2,111.7 L207.9,112.0 L208.6,112.3 L209.3,112.3 L210.0,111.6 L210.7,111.4 L211.4,111.4 L212.1,111.7 L212.8,111.6 L213.5,111.1 L214.2,111.8 L214.9,112.3 L215.6,112.4 L216.3,112.3 L217.0,112.4 L217.7,113.1 L218.4,112.9 L219.1,112.4 L219.8,113.3 L220.5,114.0 L221.2,114.4 L221.9,113.3 L222.6,112.7 L223.3,113.1 L224.0,113.7 L224.7,114.1 L225.4,113.8 L226.1,113.8 L226.8,113.9 L227.6,113.9 L228.3,113.9 L229.0,113.9 L229.7,113.9 L230.4,114.3 L231.1,115.1 L231.8,115.2 L232.5,115.1 L233.2,115.0 L233.9,114.7 L234.6,114.6 L235.3,114.8 L236.0,114.8 L236.7,114.8 L237.4,115.1 L238.1,115.1 L238.8,114.8 L239.5,115.3 L240.2,115.6 L240.9,115.4 L241.6,115.2 L242.3,114.9 L243.0,114.4 L243.7,114.5 L244.4,115.1 L245.1,115.1 L245.8,115.1 L246.5,115.0 L247.2,115.0 L247.9,114.9 L248.6,114.6 L249.3,115.0 L250.0,115.5 L250.7,115.3 L251.4,115.4 L252.1,115.5 L252.8,115.4 L253.5,115.9 L254.2,116.9 L254.9,117.1 L255.6,116.8 L256.3,115.9 L257.0,116.0 L257.7,116.4 L258.4,117.2 L259.1,117.8 L259.8,118.7 L260.5,120.0 L261.2,120.4 L261.9,119.9 L262.6,119.3 L263.3,118.7 L264.0,118.3 L264.7,116.7 L265.4,115.4 L266.1,115.3 L266.8,114.9 L267.5,114.5 L268.2,113.9 L268.9,113.9 L269.6,114.2 L270.3,114.8 L271.0,114.8 L271.7,113.9 L272.4,114.2 L273.1,114.4 L273.8,114.0 L274.5,113.4 L275.2,113.0 L275.9,113.5 L276.6,113.7 L277.3,113.7 L278.0,114.0 L278.7,114.2 L279.4,114.6 L280.1,114.1 L280.8,113.5 L281.5,113.1 L282.2,113.3 L282.9,113.7 L283.6,113.8 L284.3,113.7 L285.0,113.4 L285.7,112.5 L286.4,112.0 L287.2,112.0 L287.9,112.6 L288.6,113.0 L289.3,113.3 L290.0,113.5 L290.7,113.5 L291.4,113.5 L292.1,113.0 L292.8,112.4 L293.5,112.1 L294.2,112.1 L294.9,112.3 L295.6,112.8 L296.3,112.6 L297.0,111.3 L297.7,111.5 L298.4,112.0 L299.1,112.1 L299.8,112.1 L300.5,112.1 L301.2,112.3 L301.9,112.0 L302.6,111.4 L303.3,111.4 L304.0,111.6 L304.7,111.8 L305.4,111.7 L306.1,111.5 L306.8,111.4 L307.5,110.7 L308.2,110.1 L308.9,111.3 L309.6,111.4 L310.3,110.6 L311.0,110.0 L311.7,109.9 L312.4,110.7 L313.1,110.3 L313.8,109.7 L314.5,109.2 L315.2,109.0 L315.9,109.1 L316.6,110.2 L317.3,110.1 L318.0,109.3 L318.7,109.3 L319.4,109.5 L320.1,109.9 L320.8,109.4 L321.5,109.0 L322.2,109.2 L322.9,108.8 L323.6,108.4 L324.3,108.8 L325.0,108.1 L325.7,106.8 L326.4,107.4 L327.1,107.2 L327.8,106.1 L328.5,107.0 L329.2,107.2 L329.9,106.0 L330.6,106.3 L331.3,106.6 L332.0,105.3 L332.7,104.6 L333.4,104.4 L334.1,104.9 L334.8,105.2 L335.5,105.4 L336.2,104.7 L336.9,103.9 L337.6,103.1 L338.3,102.8 L339.0,102.7 L339.7,102.7 L340.4,102.4 L341.1,101.9 L341.8,101.5 L342.5,101.4 L343.2,101.5 L343.9,100.5 L344.6,100.3 L345.3,101.3 L346.1,100.6 L346.8,99.6 L347.5,98.8 L348.2,98.7 L348.9,99.0 L349.6,99.2 L350.3,98.5 L351.0,97.1 L351.7,97.3 L352.4,97.1 L353.1,96.3 L353.8,96.1 L354.5,96.3 L355.2,96.7 L355.9,96.4 L356.6,95.9 L357.3,94.9 L358.0,94.5 L358.7,94.5 L359.4,94.8 L360.1,94.9 L360.8,94.4 L361.5,93.8 L362.2,93.6 L362.9,93.2 L363.6,94.4 L364.3,95.6 L365.0,95.9 L365.7,97.2 L366.4,99.1 L367.1,99.9 L367.8,101.3 L368.5,103.3 L369.2,106.5 L369.9,110.0 L370.6,113.8 L371.3,117.7 L372.0,121.6 L372.7,125.0 L373.4,128.7 L374.1,132.4 L374.8,135.3 L375.5,138.2 L376.2,141.5 L376.9,144.7 L377.6,147.7 L378.3,150.2 L379.0,153.1 L379.7,155.8 L380.4,158.1 L381.1,159.8 L381.8,160.5 L382.5,160.9 L383.2,160.9 L383.9,160.5 L384.6,160.8 L385.3,160.8 L386.0,160.4 L386.7,160.2 L387.4,159.4 L388.1,158.4 L388.8,157.0 L389.5,155.4 L390.2,153.7 L390.9,153.0 L391.6,153.2 L392.3,151.0 L393.0,149.7 L393.7,149.7 L394.4,149.3 L395.1,148.8 L395.8,148.3 L396.5,147.1 L397.2,146.0 L397.9,146.4 L398.6,145.6 L399.3,144.1 L400.0,144.8 L400.7,144.5 L401.4,143.2 L402.1,143.1 L402.8,142.7 L403.5,141.9 L404.2,141.9 L405.0,142.1 L405.7,141.7 L406.4,140.9 L407.1,139.8 L407.8,140.1 L408.5,139.7 L409.2,138.6 L409.9,138.6 L410.6,138.8 L411.3,139.0 L412.0,138.7 L412.7,138.3 L413.4,137.6 L414.1,138.0 L414.8,138.7 L415.5,137.2 L416.2,136.4 L416.9,136.4 L417.6,136.6 L418.3,136.4 L419.0,135.3 L419.7,135.5 L420.4,136.0 L421.1,135.8 L421.8,135.1 L422.5,134.4 L423.2,135.1 L423.9,135.0 L424.6,134.2 L425.3,134.1 L426.0,133.9 L426.7,133.2 L427.4,133.8 L428.1,134.0 L428.8,132.9 L429.5,133.2 L430.2,133.8 L430.9,132.7 L431.6,132.3 L432.3,132.5 L433.0,133.0 L433.7,134.2 L434.4,134.7" stroke="#008000"/>
<path d="M79.6,152.6 L80.3,154.0 L81.0,154.5 L81.7,154.6 L82.4,155.3 L83.1,156.3 L83.8,157.2 L84.5,158.8 L85.2,159.7 L85.9,159.7 L86.6,159.7 L87.3,160.0 L88.0,161.4 L88.7,162.4 L89.4,163.2 L90.1,162.8 L90.8,163.4 L91.5,164.6 L92.2,163.6 L92.9,162.7 L93.6,162.4 L94.3,161.0 L95.0,159.5 L95.7,158.7 L96.4,157.7 L97.1,156.4 L97.8,153.7 L98.5,150.7 L99.2,147.3 L99.9,145.0 L100.6,141.7 L101.3,137.2 L102.0,133.9 L102.7,130.5 L103.4,126.2 L104.1,122.7 L104.8,119.3 L105.5,115.2 L106.2,111.7 L106.9,108.3 L107.6,106.9 L108.3,104.9 L109.0,102.1 L109.8,100.2 L110.5,98.5 L111.2,97.3 L111.9,96.2 L112.6,95.3 L113.3,95.0 L114.0,95.1 L114.7,95.2 L115.4,93.7 L116.1,92.8 L116.8,92.7 L117.5,92.6 L118.2,92.9 L118.9,93.9 L119.6,93.6 L120.3,93.3 L121.0,94.9 L121.7,95.3 L122.4,95.1 L123.1,95.9 L123.8,96.4 L124.5,96.6 L125.2,97.4 L125.9,97.8 L126.6,97.3 L127.3,97.2 L128.0,97.3 L128.7,97.8 L129.4,98.2 L130.1,98.6 L130.8,99.2 L131.5,99.6 L132.2,99.6 L132.9,99.5 L133.6,99.6 L134.3,99.8 L135.0,99.8 L135.7,99.9 L136.4,101.1 L137.1,101.5 L137.8,101.7 L138.5,102.1 L139.2,103.0 L139.9,104.6 L140.6,104.1 L141.3,104.1 L142.0,104.7 L142.7,104.7 L143.4,104.6 L144.1,104.9 L144.8,105.1 L145.5,105.3 L146.2,106.1 L146.9,106.3 L147.6,106.1 L148.3,106.5 L149.0,106.6 L149.7,106.3 L150.4,106.2 L151.1,106.2 L151.8,106.1 L152.5,106.1 L153.2,106.4 L153.9,107.7 L154.6,108.3 L155.3,108.2 L156.0,107.4 L156.7,107.4 L157.4,108.2 L158.1,108.2 L158.8,108.3 L159.5,108.6 L160.2,108.5 L160.9,108.4 L161.6,108.7 L162.3,108.6 L163.0,108.4 L163.7,108.8 L164.4,109.0 L165.1,108.9 L165.8,109.5 L166.5,109.6 L167.2,108.8 L167.9,109.3 L168.7,109.9 L169.4,109.7 L170.1,109.6 L170.8,109.7 L171.5,110.1 L172.2,110.2 L172.9,109.9 L173.6,110.0 L174.3,110.4 L175.0,111.2 L175.7,110.9 L176.4,110.4 L177.1,110.6 L177.8,110.9 L178.5,111.2 L179.2,111.4 L179.9,111.8 L180.6,112.4 L181.3,112.2 L182.0,111.8 L182.7,111.3 L183.4,111.8 L184.1,112.1 L184.8,111.3 L185.5,111.7 L186.2,112.5 L186.9,112.3 L187.6,112.4 L188.3,112.8 L189.0,113.1 L189.7,112.9 L190.4,112.1 L191.1,111.9 L191.8,111.9 L192.5,111.9 L193.2,112.1 L193.9,112.3 L194.6,112.8 L195.3,113.0 L196.0,113.2 L196.7,113.0 L197.4,113.1 L198.1,113.5 L198.8,114.2 L199.5,114.6 L200.2,114.0 L200.9,114.0 L201.6,114.0 L202.3,113.9 L203.0,113.7 L203.7,113.7 L204.4,113.9 L205.1,113.8 L205.8,113.3 L206.5,114.4 L207.2,115.1 L207.9,114.8 L208.6,114.1 L209.3,113.7 L210.0,114.7 L210.7,114.7 L211.4,114.3 L212.1,113.8 L212.8,113.7 L213.5,113.9 L214.2,114.2 L214.9,114.5 L215.6,114.5 L216.3,114.5 L217.0,114.5 L217.7,114.6 L218.4,114.9 L219.1,115.3 L219.8,115.5 L220.5,115.5 L221.2,115.4 L221.9,115.6 L222.6,115.8 L223.3,115.9 L224.0,115.9 L224.7,115.9 L225.4,115.8 L226.1,116.1 L226.8,116.2 L227.6,114.9 L228.3,114.8 L229.0,115.6 L229.7,115.4 L230.4,115.5 L231.1,115.8 L231.8,115.1 L232.5,114.8 L233.2,115.5 L233.9,115.6 L234.6,115.3 L235.3,115.2 L236.0,115.3 L236.7,115.6 L237.4,115.8 L238.1,115.9 L238.8,116.2 L239.5,115.5 L240.2,115.1 L240.9,115.5 L241.6,116.0 L242.3,116.3 L243.0,115.5 L243.7,115.8 L244.4,116.7 L245.1,116.4 L245.8,116.3 L246.5,116.4 L247.2,115.9 L247.9,115.7 L248.6,116.3 L249.3,116.6 L250.0,116.7 L250.7,116.6 L251.4,116.3 L252.1,116.0 L252.8,116.8 L253.5,117.0 L254.2,116.6 L254.9,117.3 L255.6,117.7 L256.3,117.4 L257.0,117.1 L257.7,117.1 L258.4,117.9 L259.1,118.3 L259.8,118.8 L260.5,119.5 L261.2,120.1 L261.9,120.2 L262.6,120.2 L263.3,119.5 L264.0,118.3 L264.7,117.0 L265.4,115.9 L266.1,115.4 L266.8,115.4 L267.5,115.7 L268.2,116.1 L268.9,115.8 L269.6,115.0 L270.3,115.0 L271.0,114.8 L271.7,114.6 L272.4,114.6 L273.1,114.6 L273.8,114.5 L274.5,114.6 L275.2,114.8 L275.9,114.4 L276.6,114.4 L277.3,114.8 L278.0,115.1 L278.7,115.0 L279.4,114.4 L280.1,114.7 L280.8,115.1 L281.5,115.3 L282.2,114.9 L282.9,114.6 L283.6,114.6 L284.3,114.3 L285.0,114.0 L285.7,114.5 L286.4,114.4 L287.2,113.8 L287.9,113.9 L288.6,114.1 L289.3,114.2 L290.0,113.9 L290.7,113.5 L291.4,113.7 L292.1,114.1 L292.8,114.5 L293.5,114.0 L294.2,114.1 L294.9,114.8 L295.6,114.3 L296.3,114.1 L297.0,114.2 L297.7,114.4 L298.4,114.5 L299.1,114.6 L299.8,114.6 L300.5,114.4 L301.2,113.8 L301.9,113.6 L302.6,113.7 L303.3,114.0 L304.0,113.8 L304.7,112.9 L305.4,113.0 L306.1,113.3 L306.8,113.2 L307.5,113.1 L308.2,113.1 L308.9,113.0 L309.6,112.6 L310.3,112.1 L311.0,113.0 L311.7,113.2 L312.4,112.4 L313.1,112.8 L313.8,113.3 L314.5,113.4 L315.2,112.7 L315.9,111.9 L316.6,112.5 L317.3,112.9 L318.0,113.2 L318.7,112.1 L319.4,111.5 L320.1,111.3 L320.8,111.8 L321.5,112.3 L322.2,112.8 L322.9,112.9 L323.6,112.8 L324.3,112.8 L325.0,112.0 L325.7,110.8 L326.4,111.1 L327.1,111.4 L327.8,111.7 L328.5,111.4 L329.2,111.3 L329.9,111.5 L330.6,111.7 L331.3,111.8 L332.0,111.3 L332.7,111.8 L333.4,112.6 L334.1,111.7 L334.8,111.4 L335.5,111.8 L336.2,111.7 L336.9,111.4 L337.6,110.7 L338.3,110.7 L339.0,110.5 L339.7,109.8 L340.4,109.6 L341.1,109.7 L341.8,109.1 L342.5,109.4 L343.2,110.4 L343.9,109.3 L344.6,108.6 L345.3,108.4 L346.1,108.9 L346.8,109.5 L347.5,109.8 L348.2,109.6 L348.9,109.1 L349.6,108.3 L350.3,108.3 L351.0,108.9 L351.7,108.7 L352.4,108.5 L353.1,108.1 L353.8,108.6 L354.5,109.1 L355.2,109.0 L355.9,108.2 L356.6,107.3 L357.3,106.9 L358.0,106.4 L358.7,105.8 L359.4,105.9 L360.1,105.8 L360.8,105.8 L361.5,105.0 L362.2,104.6 L362.9,104.8 L363.6,105.1 L364.3,105.2 L365.0,104.8 L365.7,104.6 L366.4,104.6 L367.1,104.5 L367.8,104.4 L368.5,104.1 L369.2,103.8 L369.9,103.7 L370.6,104.0 L371.3,103.0 L372.0,102.2 L372.7,103.1 L373.4,103.1 L374.1,102.6 L374.8,101.8 L375.5,101.7 L376.2,102.1 L376.9,101.1 L377.6,100.6 L378.3,101.1 L379.0,100.3 L379.7,99.3 L380.4,99.1 L381.1,98.6 L381.8,98.2 L382.5,98.2 L383.2,98.5 L383.9,98.9 L384.6,99.7 L385.3,100.0 L386.0,99.6 L386.7,99.5 L387.4,98.8 L388.1,97.1 L388.8,96.2 L389.5,95.7 L390.2,95.2 L390.9,94.8 L391.6,94.4 L392.3,94.9 L393.0,95.0 L393.7,94.8 L394.4,94.3 L395.1,93.7 L395.8,93.2 L396.5,92.4 L397.2,91.9 L397.9,92.7 L398.6,92.8 L399.3,92.3 L400.0,93.1 L400.7,93.1 L401.4,92.1 L402.1,92.5 L402.8,93.0 L403.5,92.9 L404.2,94.1 L405.0,95.7 L405.7,96.4 L406.4,98.5 L407.1,101.7 L407.8,103.4 L408.5,105.6 L409.2,108.2 L409.9,110.6 L410.6,113.1 L411.3,115.9 L412.0,119.7 L412.7,124.0 L413.4,128.4 L414.1,132.4 L414.8,136.1 L415.5,138.7 L416.2,142.0 L416.9,145.7 L417.6,149.3 L418.3,152.9 L419.0,156.2 L419.7,158.3 L420.4,159.7 L421.1,160.8 L421.8,161.1 L422.5,161.0 L423.2,162.4 L423.9,162.6 L424.6,161.5 L425.3,162.0 L426.0,161.8 L426.7,161.1 L427.4,160.4 L428.1,160.0 L428.8,160.1 L429.5,160.1 L430.2,159.5 L430.9,158.6 L431.6,156.9 L432.3,154.4 L433.0,154.2 L433.7,154.3 L434.4,153.8" stroke="#000080"/>
</g>
<path d="M113.8,299.0v-6.0M113.8,36.5v6.0M185.9,299.0v-6.0M185.9,36.5v6.0M258.1,299.0v-6.0M258.1,36.5v6.0M330.3,299.0v-6.0M330.3,36.5v6.0M402.5,299.0v-6.0M402.5,36.5v6.0M77.7,299.0v-3.4M77.7,36.5v3.4M149.8,299.0v-3.4M149.8,36.5v3.4M222.0,299.0v-3.4M222.0,36.5v3.4M294.2,299.0v-3.4M294.2,36.5v3.4M366.4,299.0v-3.4M366.4,36.5v3.4M438.5,299.0v-3.4M438.5,36.5v3.4M70.5,74.9h6.0M445.5,74.9h-6.0M70.5,122.7h6.0M445.5,122.7h-6.0M70.5,170.5h6.0M445.5,170.5h-6.0M70.5,218.3h6.0M445.5,218.3h-6.0M70.5,266.1h6.0M445.5,266.1h-6.0M70.5,51.0h3.4M445.5,51.0h-3.4M70.5,98.8h3.4M445.5,98.8h-3.4M70.5,146.6h3.4M445.5,146.6h-3.4M70.5,194.4h3.4M445.5,194.4h-3.4M70.5,242.2h3.4M445.5,242.2h-3.4M70.5,290.0h3.4M445.5,290.0h-3.4M101.5,649.0v-6.0M101.5,386.5v6.0M164.1,649.0v-6.0M164.1,386.5v6.0M226.7,649.0v-6.0M226.7,386.5v6.0M289.2,649.0v-6.0M289.2,386.5v6.0M351.9,649.0v-6.0M351.9,386.5v6.0M414.4,649.0v-6.0M414.4,386.5v6.0M132.8,649.0v-3.4M132.8,386.5v3.4M195.4,649.0v-3.4M195.4,386.5v3.4M257.9,649.0v-3.4M257.9,386.5v3.4M320.6,649.0v-3.4M320.6,386.5v3.4M383.1,649.0v-3.4M383.1,386.5v3.4M70.5,596.5h6.0M445.5,596.5h-6.0M70.5,544.0h6.0M445.5,544.0h-6.0M70.5,491.5h6.0M445.5,491.5h-6.0M70.5,439.0h6.0M445.5,439.0h-6.0M70.5,622.8h3.4M445.5,622.8h-3.4M70.5,570.3h3.4M445.5,570.3h-3.4M70.5,517.8h3.4M445.5,517.8h-3.4M70.5,465.3h3.4M445.5,465.3h-3.4M70.5,412.8h3.4M445.5,412.8h-3.4" stroke="#000" stroke-width="1.25" fill="none"/>
<rect x="70.5" y="36.5" width="375.0" height="262.5" fill="none" stroke="#000" stroke-width="1.5"/>
<rect x="70.5" y="386.5" width="375.0" height="262.5" fill="none" stroke="#000" stroke-width="1.5"/>
<path d="M101.5,635.9L414.4,425.9" stroke="#000" stroke-width="2.15" fill="none"/>
<circle cx="101.5" cy="630.7" r="5.0"/>
<circle cx="164.1" cy="593.9" r="5.0"/>
<circle cx="226.7" cy="565.6" r="5.0"/>
<circle cx="289.2" cy="502.0" r="5.0"/>
<circle cx="351.9" cy="470.5" r="5.0"/>
<circle cx="414.4" cy="423.3" r="5.0"/>
<text x="114.0" y="322.3" text-anchor="middle">-500</text>
<text x="186.1" y="322.3" text-anchor="middle">-250</text>
<text x="257.7" y="322.3" text-anchor="middle">0</text>
<text x="329.9" y="322.3" text-anchor="middle">250</text>
<text x="402.1" y="322.3" text-anchor="middle">500</text>
<text x="63.1" y="127.9" text-anchor="end">0</text>
<text x="63.1" y="223.5" text-anchor="end">-2</text>
<text x="63.1" y="271.3" text-anchor="end">-3</text>
<path d="M58.09,79.80 L58.09,71.34 L55.44,71.34 L55.44,70.29 C57.74,70.00 58.05,69.75 58.57,67.92 L59.56,67.92 L59.56,79.80 Z"/>
<path d="M58.09,175.40 L58.09,166.94 L55.44,166.94 L55.44,165.89 C57.74,165.60 58.05,165.35 58.57,163.52 L59.56,163.52 L59.56,175.40 Z"/>
<text x="53.55" y="175.7" text-anchor="end">-</text>
<text x="257.7" y="344.8" text-anchor="middle">Magnetic Field [Oe]</text>
<text transform="translate(36.7,175.8) rotate(-90)" text-anchor="middle">VDC [mV]</text>
<text x="101.5" y="668.7" text-anchor="middle">2</text>
<text x="164.1" y="668.7" text-anchor="middle">3</text>
<text x="226.7" y="668.7" text-anchor="middle">4</text>
<text x="289.2" y="668.7" text-anchor="middle">5</text>
<text x="351.9" y="668.7" text-anchor="middle">6</text>
<text x="414.4" y="668.7" text-anchor="middle">7</text>
<text x="63.8" y="654.8" text-anchor="end">40</text>
<text x="63.8" y="602.2" text-anchor="end">50</text>
<text x="63.8" y="549.7" text-anchor="end">60</text>
<text x="63.8" y="497.2" text-anchor="end">70</text>
<text x="63.8" y="444.7" text-anchor="end">80</text>
<text x="63.8" y="392.2" text-anchor="end">90</text>
<text x="258" y="686.1" text-anchor="middle">Frequency [GHz]</text>
<text transform="translate(35.1,527.1) rotate(-90)" text-anchor="middle">ΔH [Oe]</text>
<text x="367.2" y="612.2" font-size="16.5px" text-anchor="middle">slope: 8.0 Oe/GHz</text>
<text x="366.2" y="631.6" font-size="16.6px" text-anchor="middle">intercept: 26.5 Oe</text>
<text transform="translate(11.0,51.6) scale(0.925,1)" font-size="22.6px">(a)</text>
<text transform="translate(11.8,374.1) scale(0.925,1)" font-size="22.6px">(b)</text>
<text transform="translate(97.1,211.8) rotate(-90)" fill="#000080">7GHz</text>
<text transform="translate(134.3,207.7) rotate(-90)" fill="#008000">6GHz</text>
<text transform="translate(171.0,216.8) rotate(-90)" fill="#ff00ff">5GHz</text>
<text transform="translate(199.7,246.0) rotate(-90)" fill="#0000ff">4GHz</text>
<text transform="translate(222.2,277.0) rotate(-90)" fill="#ff0000">3GHz</text>
<text transform="translate(252.1,296.7) rotate(-90)" fill="#000000">2GHz</text>
</g></svg>
</body></html>
